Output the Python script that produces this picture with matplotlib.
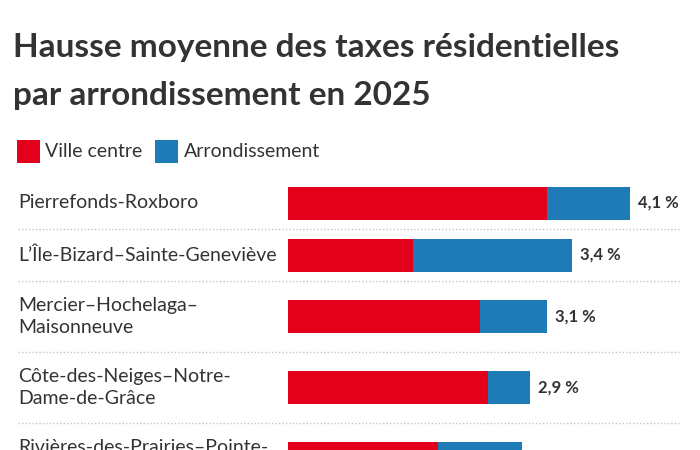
import matplotlib
matplotlib.use("Agg")
import matplotlib.pyplot as plt
from matplotlib import transforms
from matplotlib.patches import Rectangle

# data (percent increase, 2025)
ARRONDISSEMENTS = [
    "Pierrefonds-Roxboro",
    "L\u2019\u00cele-Bizard\u2013Sainte-Genevi\u00e8ve",
    "Mercier\u2013Hochelaga\u2013\nMaisonneuve",
    "C\u00f4te-des-Neiges\u2013Notre-\nDame-de-Gr\u00e2ce",
    "Rivi\u00e8res-des-Prairies\u2013Pointe-\naux-Trembles",
]
VILLE_CENTRE = [3.1, 1.5, 2.3, 2.4, 1.8]
ARRONDISSEMENT = [1.0, 1.9, 0.8, 0.5, 1.0]
TOTAL = [4.1, 3.4, 3.1, 2.9, 2.8]

RED = "#E2001A"
BLUE = "#1F7BB6"
INK = "#333333"
W, H = 700, 450

plt.rcParams["font.family"] = ["Lato", "DejaVu Sans"]

fig = plt.figure(figsize=(7, 4.5), dpi=100)
fig.patch.set_facecolor("white")

# bar area: y axis expressed in pixels from the top so rows can have uneven heights
top, x0, px_per_unit = 175, 288, 83.4
ax = fig.add_axes([x0 / W, 0, (W - x0) / W, (H - top) / H])
ax.set_xlim(0, (W - x0) / px_per_unit)
ax.set_ylim(H, top)
ax.axis("off")

# row layout from number of label lines
y, centers, seps = 177, [], []
for lab in ARRONDISSEMENTS:
    h = 52 if "\n" not in lab else 71
    centers.append(y + h / 2)
    y += h
    seps.append(y)

ax.barh(centers, VILLE_CENTRE, height=33, color=RED, lw=0)
ax.barh(centers, ARRONDISSEMENT, left=VILLE_CENTRE, height=33, color=BLUE, lw=0)

blend = transforms.blended_transform_factory(fig.transFigure, ax.transData)
for lab, c, tot in zip(ARRONDISSEMENTS, centers, TOTAL):
    ax.text(18 / W, c, lab, transform=blend, ha="left", va="center",
            fontsize=14, color=INK, linespacing=1.4, clip_on=False)
    ax.annotate(f"{tot:.1f}".replace(".", ",") + " %", (tot, c),
                xytext=(8, 0), textcoords="offset pixels", ha="left",
                va="center", fontsize=12, fontweight="bold", color=INK,
                annotation_clip=False)
for s in seps[:-1]:
    ax.plot([18 / W, 680 / W], [s, s], transform=blend, color="#c4c4c4",
            lw=1, ls=(0, (1, 1.5)), clip_on=False)

# title
fig.text(13 / W, 1 - 57 / H, "Hausse moyenne des taxes r\u00e9sidentielles",
         fontsize=24, fontweight="bold", color=INK, va="baseline")
fig.text(13 / W, 1 - 105 / H, "par arrondissement en 2025",
         fontsize=24, fontweight="bold", color=INK, va="baseline")

# legend
for xs, col, txt, xt in [(17, RED, "Ville centre", 45),
                         (155, BLUE, "Arrondissement", 184)]:
    fig.patches.append(Rectangle((xs / W, 1 - 163 / H), 23 / W, 23 / H,
                                 transform=fig.transFigure, color=col, lw=0))
    fig.text(xt / W, 1 - 157 / H, txt, fontsize=14, color=INK, va="baseline")

fig.savefig("out.png", dpi=100)
